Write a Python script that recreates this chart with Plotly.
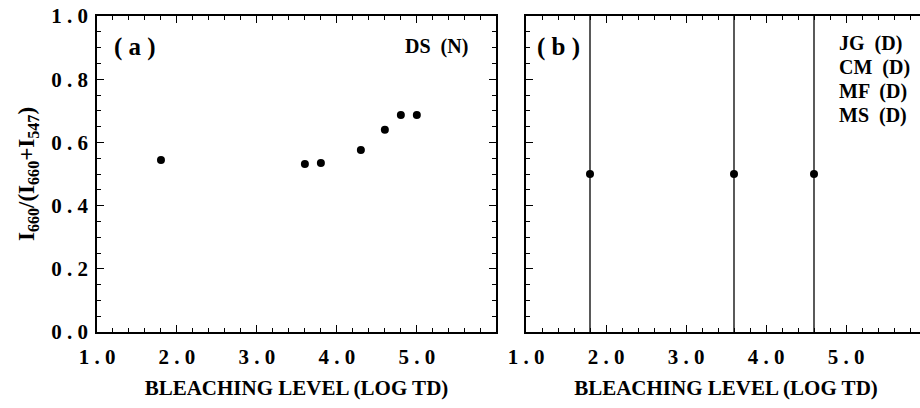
import plotly.graph_objects as go

# Panel (a): DS (N)
xa = [1.8, 3.6, 3.8, 4.3, 4.6, 4.8, 5.0]
ya = [0.544, 0.532, 0.535, 0.576, 0.640, 0.687, 0.687]

# Panel (b): JG, CM, MF, MS (D)
xb = [1.8, 3.6, 4.6]
yb = [0.5, 0.5, 0.5]
yb_err = [0.5, 0.5, 0.5]

xticks = [1.0, 2.0, 3.0, 4.0, 5.0]
xtick_text = ["1 . 0", "2 . 0", "3 . 0", "4 . 0", "5 . 0"]
yticks = [0.0, 0.2, 0.4, 0.6, 0.8, 1.0]
ytick_text = ["0 . 0", "0 . 2", "0 . 4", "0 . 6", "0 . 8", "1 . 0"]
labels_b = ["JG  (D)", "CM  (D)", "MF  (D)", "MS  (D)"]

FONT = "Liberation Serif"

# body margin set to 8px on the left only; plot area in figure coords
OX, OY = 8, 0
L, R, T, B = 89, 918, 16, 332
W, H = 920, 408
PW, PH = R - L, B - T


def px(page_x):
    return (page_x - OX - L) / PW


def py(page_y):
    return (B - (page_y - OY)) / PH


fig = go.Figure()
fig.add_trace(go.Scatter(x=xa, y=ya, mode="markers",
                         marker=dict(color="black", size=8),
                         xaxis="x", yaxis="y", showlegend=False))
fig.add_trace(go.Scatter(x=xb, y=yb, mode="markers",
                         marker=dict(color="black", size=8),
                         error_y=dict(type="data", array=yb_err, symmetric=True,
                                      color="black", thickness=1.3, width=0),
                         xaxis="x2", yaxis="y2", showlegend=False))

tickfont = dict(family=FONT, size=21, color="black")
titlefont = dict(family=FONT, size=21, color="black")


def xax(domain, rng, anchor):
    return dict(domain=domain, range=rng, anchor=anchor,
                tickvals=xticks, ticktext=[f"<b>{t}</b>" for t in xtick_text],
                ticks="inside", ticklen=7, tickwidth=1.3, tickcolor="black",
                minor=dict(dtick=0.2, tick0=1.0, ticks="inside", ticklen=4,
                           tickwidth=1.1, tickcolor="black"),
                showline=True, linecolor="black", linewidth=1.5, mirror="ticks",
                showgrid=False, zeroline=False, tickfont=tickfont,
                ticklabelstandoff=5, ticklabeloverflow="allow",
                title=dict(text="<b>BLEACHING LEVEL (LOG TD)</b>", font=titlefont,
                           standoff=12))


def yax(anchor, labels):
    d = dict(domain=[0, 1], range=[0, 1.0], anchor=anchor,
             tickvals=yticks,
             ticks="inside", ticklen=7, tickwidth=1.3, tickcolor="black",
             minor=dict(dtick=0.05, tick0=0, ticks="inside", ticklen=4,
                        tickwidth=1.1, tickcolor="black"),
             showline=True, linecolor="black", linewidth=1.5,
             mirror="ticks" if labels else False,
             showgrid=False, zeroline=False)
    if labels:
        d.update(ticktext=[f"<b>{t}</b>" for t in ytick_text], tickfont=tickfont,
                 ticklabelstandoff=3, ticklabeloverflow="allow",
                 title=dict(text="<b>I<sub>660</sub>/(I<sub>660</sub>+I<sub>547</sub>)</b>",
                            font=dict(family=FONT, size=23, color="black"), standoff=10))
    else:
        d.update(showticklabels=False)
    return d


fig.update_layout(
    width=W, height=H,
    margin=dict(l=L, r=W - R, t=T, b=H - B, autoexpand=False),
    paper_bgcolor="white", plot_bgcolor="white",
    xaxis=xax([0, px(496)], [1.0, 5.99], "y"),
    xaxis2=xax([px(526), 1.0], [1.0, 6.0], "y2"),
    yaxis=yax("x", True),
    yaxis2=yax("x2", False),
)

ann_font = dict(family=FONT, size=20, color="black")
fig.add_annotation(text="<b>( a )</b>", x=px(112), y=py(47),
                   xref="paper", yref="paper",
                   xanchor="left", yanchor="middle", showarrow=False,
                   font=dict(family=FONT, size=25, color="black"))
fig.add_annotation(text="<b>( b )</b>", x=px(535), y=py(47),
                   xref="paper", yref="paper",
                   xanchor="left", yanchor="middle", showarrow=False,
                   font=dict(family=FONT, size=25, color="black"))
fig.add_annotation(text="<b>DS  (N)</b>", x=px(470), y=py(47),
                   xref="paper", yref="paper", xanchor="right", yanchor="middle",
                   showarrow=False, font=ann_font)
for i, lab in enumerate(labels_b):
    fig.add_annotation(text=f"<b>{lab}</b>", x=px(837),
                       y=py(43 + 24 * i),
                       xref="paper", yref="paper", xanchor="left", yanchor="middle",
                       showarrow=False, font=ann_font)

fig.write_html("out.html",
               post_script="document.body.style.margin='0 0 0 8px';"
                           "document.body.style.overflow='hidden';")
